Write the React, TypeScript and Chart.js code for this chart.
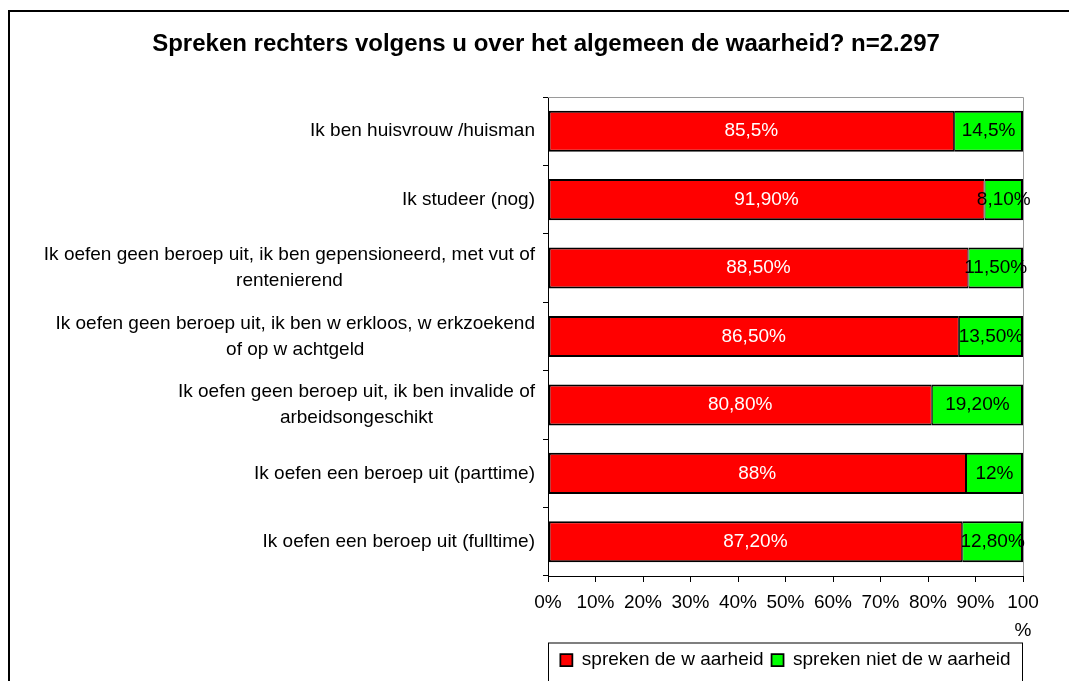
import React, { useEffect, useRef } from "react";
import { Chart, registerables } from "chart.js";

Chart.register(...registerables);

const TITLE = "Spreken rechters volgens u over het algemeen de waarheid? n=2.297";

const categories: string[][] = [
  ["Ik ben huisvrouw /huisman"],
  ["Ik studeer (nog)"],
  ["Ik oefen geen beroep uit, ik ben gepensioneerd, met vut of", "rentenierend"],
  ["Ik oefen geen beroep uit, ik ben w erkloos, w erkzoekend", "of op w achtgeld"],
  ["Ik oefen geen beroep uit, ik ben invalide of", "arbeidsongeschikt"],
  ["Ik oefen een beroep uit (parttime)"],
  ["Ik oefen een beroep uit (fulltime)"],
];

const seriesNames = ["spreken de w aarheid", "spreken niet de w aarheid"];

const waarValues = [85.5, 91.9, 88.5, 86.5, 80.8, 88, 87.2];
const nietWaarValues = [14.5, 8.1, 11.5, 13.5, 19.2, 12, 12.8];

const waarLabels = ["85,5%", "91,90%", "88,50%", "86,50%", "80,80%", "88%", "87,20%"];
const nietWaarLabels = ["14,5%", "8,10%", "11,50%", "13,50%", "19,20%", "12%", "12,80%"];

const xTicks = [0, 10, 20, 30, 40, 50, 60, 70, 80, 90, 100];

const FONT = "'Liberation Sans', Arial, sans-serif";

export default function App() {
  const ref = useRef<HTMLCanvasElement | null>(null);

  useEffect(() => {
    const canvas = ref.current;
    if (!canvas) return;

    const framePlugin = {
      id: "frame",
      beforeDraw(chart: any) {
        const ctx = chart.ctx;
        ctx.save();
        ctx.fillStyle = "#fff";
        ctx.fillRect(0, 0, chart.width, chart.height);
        ctx.strokeStyle = "#000";
        ctx.lineWidth = 2;
        ctx.strokeRect(9, 11, 1200, 800);
        ctx.restore();
      },
      beforeDatasetsDraw(chart: any) {
        const { ctx, chartArea } = chart;
        ctx.save();
        ctx.strokeStyle = "#9a9a9a";
        ctx.lineWidth = 1;
        ctx.beginPath();
        ctx.moveTo(chartArea.left, chartArea.top + 0.5);
        ctx.lineTo(chartArea.right + 0.5, chartArea.top + 0.5);
        ctx.lineTo(chartArea.right + 0.5, chartArea.bottom);
        ctx.stroke();
        ctx.restore();
      },
      afterDatasetsDraw(chart: any) {
        const ctx = chart.ctx;
        ctx.save();
        ctx.font = `19px ${FONT}`;
        ctx.textAlign = "center";
        ctx.textBaseline = "middle";
        const labelSets = [waarLabels, nietWaarLabels];
        const colors = ["#fff", "#000"];
        chart.data.datasets.forEach((_ds: any, di: number) => {
          const meta = chart.getDatasetMeta(di);
          meta.data.forEach((bar: any, i: number) => {
            const cx = (bar.x + bar.base) / 2;
            ctx.fillStyle = colors[di];
            ctx.fillText(labelSets[di][i], cx, bar.y);
          });
        });
        ctx.restore();
      },
      afterDraw(chart: any) {
        const { ctx, chartArea } = chart;
        const yScale = chart.scales.y;
        ctx.save();
        ctx.font = `19px ${FONT}`;
        ctx.fillStyle = "#000";
        ctx.textAlign = "center";
        ctx.textBaseline = "middle";
        const rightEdge = chartArea.left - 13;
        const lineH = 26;
        categories.forEach((lines, i) => {
          const yc = yScale.getPixelForValue(i);
          const maxW = Math.max(...lines.map((l) => ctx.measureText(l).width));
          const cx = rightEdge - maxW / 2;
          const start = yc - ((lines.length - 1) * lineH) / 2;
          lines.forEach((l, k) => ctx.fillText(l, cx, start + k * lineH));
        });
        // legend border
        const lg = chart.legend;
        ctx.strokeStyle = "#000";
        ctx.lineWidth = 1;
        ctx.strokeRect(chartArea.left + 0.5, lg.top + 0.5, chartArea.right - chartArea.left - 1, 200);
        ctx.restore();
      },
    };

    const chart = new Chart(canvas, {
      type: "bar",
      data: {
        labels: categories.map((c) => c.join(" ")),
        datasets: [
          {
            label: seriesNames[0],
            data: waarValues,
            backgroundColor: "#ff0000",
            borderColor: "#000",
            borderWidth: { top: 2, bottom: 2, left: 2, right: 1 },
            borderSkipped: false,
          },
          {
            label: seriesNames[1],
            data: nietWaarValues,
            backgroundColor: "#00ff00",
            borderColor: "#000",
            borderWidth: { top: 2, bottom: 2, left: 1, right: 2 },
            borderSkipped: false,
          },
        ],
      },
      options: {
        indexAxis: "y",
        responsive: false,
        animation: false,
        maintainAspectRatio: false,
        datasets: {
          bar: { categoryPercentage: 1, barPercentage: 0.6 },
        },
        layout: { padding: { left: 69, right: 46, top: 0, bottom: 1.5 } },
        scales: {
          x: {
            stacked: true,
            min: 0,
            max: 100,
            afterFit(scale: any) {
              scale.height = 66.5;
            },
            afterBuildTicks(scale: any) {
              scale.ticks = xTicks.map((v) => ({ value: v }));
            },
            grid: {
              drawOnChartArea: false,
              drawTicks: true,
              tickLength: 6,
              color: "#000",
            },
            border: { color: "#000", width: 1 },
            ticks: {
              color: "#000",
              padding: 7,
              maxRotation: 0,
              autoSkip: false,
              font: { family: FONT, size: 19, lineHeight: 1.45 },
              callback: (v: any) => (Number(v) === 100 ? ["100", "%"] : `${v}%`),
            },
          },
          y: {
            stacked: true,
            afterFit(scale: any) {
              scale.width = 479;
            },
            grid: {
              offset: true,
              drawOnChartArea: false,
              drawTicks: true,
              tickLength: 5,
              color: "#000",
            },
            border: { color: "#000", width: 1 },
            ticks: { display: false },
          },
        },
        plugins: {
          title: {
            display: true,
            text: TITLE,
            color: "#000",
            font: { family: FONT, size: 24, weight: "bold", lineHeight: 1.2 },
            padding: { top: 30, bottom: 38.2 },
          },
          legend: {
            display: true,
            position: "bottom",
            fullSize: false,
            labels: {
              color: "#000",
              boxWidth: 12,
              boxHeight: 12,
              padding: 8,
              font: { family: FONT, size: 19 },
            },
          },
          tooltip: { enabled: false },
        },
      },
      plugins: [framePlugin],
    } as any);

    return () => chart.destroy();
  }, []);

  return (
    <div style={{ position: "fixed", left: 0, top: 0, width: 1069, height: 681, background: "#fff" }}>
      <canvas ref={ref} width={1069} height={681} style={{ display: "block", width: 1069, height: 681 }} />
    </div>
  );
}
